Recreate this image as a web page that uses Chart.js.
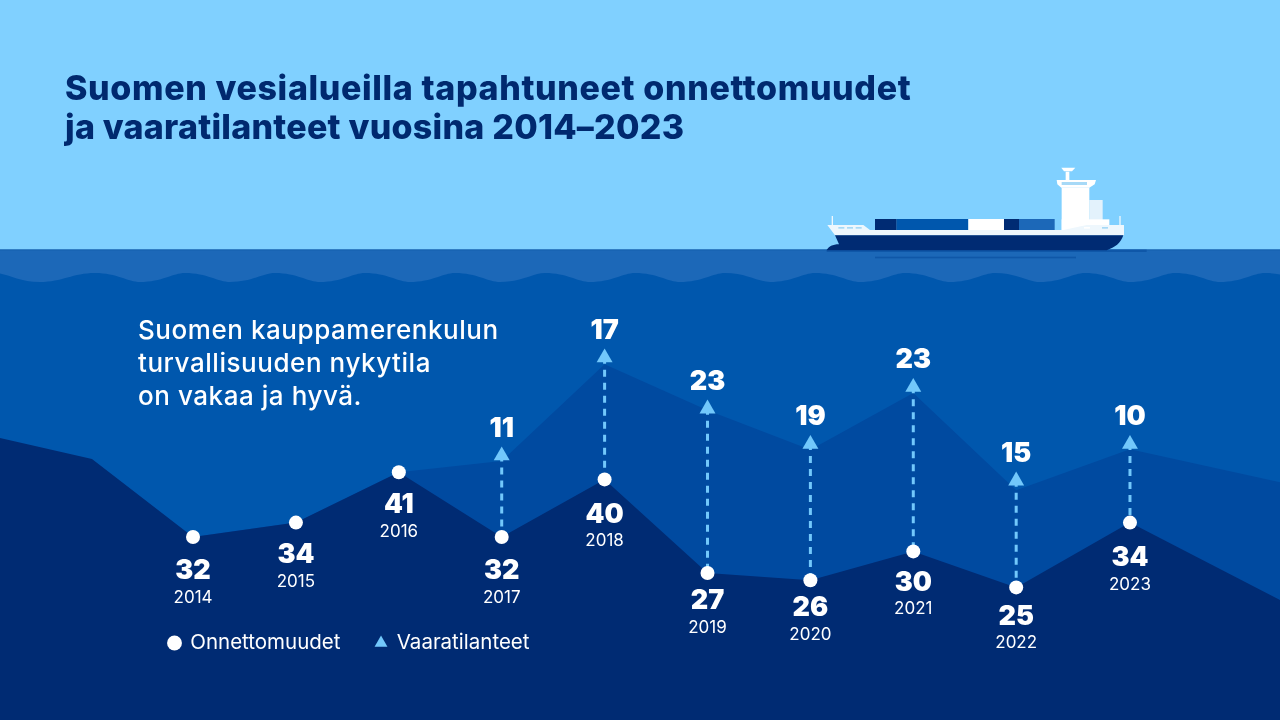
<!DOCTYPE html>
<html lang="fi"><head><meta charset="utf-8">
<style>
html,body{margin:0;padding:0;width:1280px;height:720px;overflow:hidden;background:#80d0ff}
#bg{position:absolute;left:0;top:0}
#c{position:absolute;left:0;top:0;width:1280px;height:720px}
.t{position:absolute;white-space:pre}
#title{left:65px;top:69px;font:800 34px/38.5px Inter,sans-serif;color:#00296f;letter-spacing:.63px}
#title span{letter-spacing:.25px}
#lead{left:138px;top:313px;font:500 26px/33px Inter,sans-serif;color:#fff;letter-spacing:.55px}
</style></head><body>
<svg id="bg" width="1280" height="720" viewBox="0 0 1280 720" xmlns="http://www.w3.org/2000/svg">
<rect width="1280" height="720" fill="#80d0ff"/>
<rect y="249.5" width="1280" height="471" fill="#1c68b8"/>
<rect y="249.5" width="1280" height="1" fill="#1560ae"/>
<path id="wave" fill="#0057ad" d="M-40 277.5 C-29 277.5 -17 273 -5 273 C7 273 18 282 40 282 C62 282 73 273 95 273 C117 273 128 282 140 282 C162 282 173 273 185 273 C207 273 218 282 230 282 C252 282 263 273 275 273 C297 273 308 282 320 282 C342 282 353 273 365 273 C387 273 398 282 410 282 C432 282 443 273 455 273 C477 273 488 282 500 282 C522 282 533 273 545 273 C567 273 578 282 590 282 C612 282 623 273 635 273 C657 273 668 282 680 282 C702 282 713 273 725 273 C747 273 758 282 770 282 C792 282 803 273 815 273 C837 273 848 282 860 282 C882 282 893 273 905 273 C927 273 938 282 950 282 C972 282 983 273 995 273 C1017 273 1028 282 1040 282 C1062 282 1073 273 1085 273 C1107 273 1118 282 1130 282 C1152 282 1163 273 1175 273 C1197 273 1208 282 1220 282 C1242 282 1253 273 1265 273 C1287 273 1298 282 1310 282 L1310 720 L-40 720 Z"/>
<g transform="translate(800 150) scale(.33333)">
<rect x="80" y="299" width="960" height="7" fill="#0f57a8"/>
<rect x="225" y="320" width="603" height="5" fill="#0f57a8"/>
<rect x="95" y="198" width="4" height="30" fill="#eef7fd"/>
<rect x="958" y="198" width="4" height="30" fill="#eef7fd"/>
<rect x="225" y="207" width="65" height="34" fill="#002b73"/>
<rect x="290" y="207" width="215" height="34" fill="#0057ad"/>
<rect x="505" y="207" width="107" height="34" fill="#ffffff"/>
<rect x="612" y="207" width="45" height="34" fill="#002b73"/>
<rect x="657" y="207" width="107" height="34" fill="#1c68b8"/>
<rect x="868" y="150" width="40" height="60" fill="#e3f2fc"/>
<rect x="785" y="113" width="83" height="127" fill="#ffffff"/>
<rect x="785" y="208" width="143" height="32" fill="#ffffff"/>
<path d="M770 90 L888 90 L884 103 L868 113 L784 113 L772 103 Z" fill="#ffffff"/>
<rect x="785" y="96" width="76" height="9" fill="#a6d9f7"/>
<rect x="797" y="65" width="11" height="26" fill="#ffffff"/>
<path d="M784 53 L826 53 L816 64 L792 64 Z" fill="#ffffff"/>
<path d="M82 225 L190 225 L210 240 L790 240 L860 225 L972 225 L972 256 L105 256 Z" fill="#eef7fd"/>
<rect x="115" y="231" width="18" height="5" fill="#a6d9f7"/><rect x="141" y="231" width="18" height="5" fill="#a6d9f7"/><rect x="167" y="231" width="18" height="5" fill="#a6d9f7"/>
<rect x="852" y="231" width="18" height="5" fill="#ffffff"/><rect x="906" y="231" width="18" height="5" fill="#a6d9f7"/>
<path d="M105 256 L970 256 C962 280 945 292 920 301 L80 301 C85 290 98 283 117 283 Z" fill="#002b73"/>
</g>
</svg>
<canvas id="c" width="1280" height="720"></canvas>
<div id="title" class="t">Suomen vesialueilla tapahtuneet onnettomuudet
<span>ja vaaratilanteet vuosina 2014–2023</span></div>
<div id="lead" class="t">Suomen kauppamerenkulun
turvallisuuden nykytila
on vakaa ja hyvä.</div>
<script src="https://cdn.jsdelivr.net/npm/chart.js@4/dist/chart.umd.min.js"></script>
<script>
const years = ["2014","2015","2016","2017","2018","2019","2020","2021","2022","2023"];
const yearAxis = [2014,2015,2016,2017,2018,2019,2020,2021,2022,2023.106];
const accidents = [32,34,41,32,40,27,26,30,25,34];
const hazardYears = ["2017","2018","2019","2020","2021","2022","2023"];
const hazards = [11,17,23,19,23,15,10];
const hazardLevels = [43.3,56.9,49.8,44.9,52.8,39.8,44.9];
const darkAreaX = [2012.124,2013.018,2014,2015,2016,2017,2018,2019,2020,2021,2022,2023.106,2024.564];
const darkAreaY = [45.75,42.83,32,34,41,32,40,27,26,30,25,34,23.25];
const midAreaX = [2012.124,2014,2015,2016,2017,2018,2019,2020,2021,2022,2023.106,2024.564];
const midAreaY = [20,32,34,41,42.56,56,49.6,44.1,52,38.5,44.2,39.6];
const labelGaps = [34,32,33,34,35,28,28,31,29,35];

const pts = (xs, ys) => xs.map((x, i) => ({x, y: ys[i]}));
const hazardX = hazardYears.map(y => yearAxis[years.indexOf(y)]);
const dashes = hazardYears.map((y, i) => {
  const k = years.indexOf(y);
  return {label: "dash" + y, order: 2, data: [{x: yearAxis[k], y: hazardLevels[i]}, {x: yearAxis[k], y: accidents[k]}],
    borderColor: "#72c8fb", borderWidth: 3, borderDash: [7, 6], borderDashOffset: 1, pointRadius: 0, fill: false};
});
const valueFont = '900 27px Inter, sans-serif', yearFont = '400 17px Inter, sans-serif';
const labelsPlugin = {
  id: "markLabels",
  beforeLayout(chart) {
    const l = chart.legend;
    l.isHorizontal = () => true;
    l._layers = () => [{z: 1, draw: area => l.draw(area)}];
  },
  afterLayout(chart) {
    const l = chart.legend;
    l.left = 134; l.right = 1200; l.top = 597.75;
  },
  afterDatasetsDraw(chart) {
    const ctx = chart.ctx;
    ctx.save(); ctx.fillStyle = "#fff"; ctx.textAlign = "center"; ctx.textBaseline = "middle";
    const dots = chart.getDatasetMeta(chart.data.datasets.findIndex(d => d.label === "Onnettomuudet")).data;
    const tris = chart.getDatasetMeta(chart.data.datasets.findIndex(d => d.label === "Vaaratilanteet")).data;
    dots.forEach((p, i) => {
      ctx.font = valueFont; ctx.fillText(String(accidents[i]), p.x, p.y + labelGaps[i]);
      ctx.font = yearFont; ctx.fillText(years[i], p.x, p.y + labelGaps[i] + 27);
    });
    tris.forEach((p, i) => { ctx.font = valueFont; ctx.fillText(String(hazards[i]), p.x, p.y - 27); });
    ctx.restore();
  }
};
new Chart(document.getElementById("c"), {
  type: "line",
  data: {datasets: [
    {label: "Onnettomuudet", order: 0, data: pts(yearAxis, accidents), showLine: false, pointStyle: "circle", pointRadius: 7, pointBackgroundColor: "#fff", pointBorderWidth: 0, backgroundColor: "#fff", borderColor: "#fff"},
    {label: "Vaaratilanteet", order: 1, data: pts(hazardX, hazardLevels), showLine: false, pointStyle: "triangle", pointRadius: 9.2, pointBackgroundColor: "#72c8fb", pointBorderWidth: 0, backgroundColor: "#72c8fb", borderColor: "#72c8fb"},
    ...dashes,
    {label: "dark", order: 3, data: pts(darkAreaX, darkAreaY), fill: "start", backgroundColor: "#002b73", borderWidth: 0, pointRadius: 0, tension: 0},
    {label: "mid", order: 4, data: pts(midAreaX, midAreaY), fill: "start", backgroundColor: "#004aa0", borderWidth: 0, pointRadius: 0, tension: 0}
  ]},
  options: {
    responsive: false, animation: false, devicePixelRatio: 1,
    layout: {padding: 0, autoPadding: false},
    scales: {
      x: {type: "linear", display: false, min: 2012.124, max: 2024.564},
      y: {type: "linear", display: false, min: 6.58, max: 106.58}
    },
    plugins: {
      title: {display: false}, tooltip: {enabled: false},
      legend: {display: true, position: "chartArea", align: "start",
        labels: {usePointStyle: true, boxWidth: 11, boxHeight: 10.5, padding: 35, color: "#fff",
          font: {family: "Inter, sans-serif", size: 20.5, weight: "400"},
          filter: it => it.text === "Onnettomuudet" || it.text === "Vaaratilanteet"}}
    }
  },
  plugins: [labelsPlugin]
});
</script>
</body></html>
